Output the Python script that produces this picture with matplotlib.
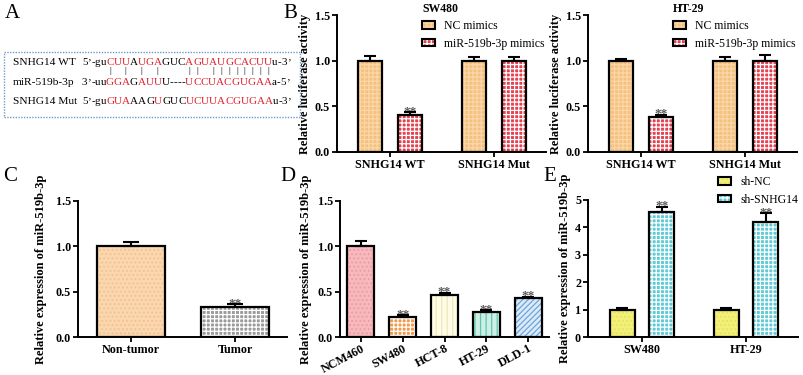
import numpy as np
import matplotlib
matplotlib.use("Agg")
import matplotlib.pyplot as plt
from matplotlib.patches import Patch, Rectangle

plt.rcParams['font.family'] = ['Liberation Serif', 'DejaVu Serif']
plt.rcParams['font.weight'] = 'bold'
plt.rcParams['hatch.linewidth'] = 0.9

# ---- data ----
luc_groups = ['SNHG14 WT', 'SNHG14 Mut']
sw480_nc = [1.0, 1.0]
sw480_nc_err = [0.05, 0.035]
sw480_mir = [0.405, 1.0]
sw480_mir_err = [0.03, 0.04]
ht29_nc = [1.0, 1.0]
ht29_nc_err = [0.02, 0.04]
ht29_mir = [0.38, 1.0]
ht29_mir_err = [0.025, 0.065]
luc_sig = [True, False]

tissue = ['Non-tumor', 'Tumor']
tissue_vals = [1.0, 0.335]
tissue_err = [0.045, 0.025]
tissue_sig = [False, True]

cells = ['NCM460', 'SW480', 'HCT-8', 'HT-29', 'DLD-1']
cell_vals = [1.0, 0.225, 0.465, 0.275, 0.425]
cell_err = [0.06, 0.015, 0.02, 0.02, 0.02]
cell_sig = [False, True, True, True, True]

sh_groups = ['SW480', 'HT-29']
sh_nc = [1.0, 1.0]
sh_nc_err = [0.05, 0.05]
sh_snhg14 = [4.57, 4.21]
sh_snhg14_err = [0.17, 0.3]
sh_sig = [True, True]

# sequences: (text, is_red)
wt_seq = [("5’-gu", 0), ("CUU", 1), ("A", 0), ("UGA", 1), ("GUC", 0),
          ("AGUAUGCACUU", 1), ("u-3’", 0)]
mir_seq = [("3’-uu", 0), ("GGA", 1), ("G", 0), ("AUU", 1), ("U----", 0),
           ("UCCUACGUGAA", 1), ("a-5’", 0)]
mut_seq = [("5’-gu", 0), ("GUA", 1), ("AAG", 0), ("U", 1), ("GUC", 0),
           ("UCUUACGUGAA", 1), ("u-3’", 0)]
# paired positions in the WT core (after 5'-gu)
pair_idx = [0, 2, 4, 6, 10, 11, 13, 14, 15, 16, 17, 18, 19, 20]

W, H = 804, 375
fig = plt.figure(figsize=(W / 100, H / 100), dpi=100)


def px_axes(l, r, top, bottom):
    return fig.add_axes([l / W, 1 - bottom / H, (r - l) / W, (bottom - top) / H])


def style_axes(ax, ylim, yticks, ylabel, labelpad, lsize=9.0):
    for s in ['top', 'right']:
        ax.spines[s].set_visible(False)
    for s in ['left', 'bottom']:
        ax.spines[s].set_linewidth(1.4)
    ax.set_ylim(*ylim)
    ax.set_yticks(yticks)
    ax.tick_params(direction='out', length=3.5, width=1.3, labelsize=8.7, pad=1.5)
    ax.set_ylabel(ylabel, fontsize=lsize, fontweight='bold', labelpad=labelpad)


def bars(ax, x, vals, errs, width, fc, hc, hatch, capsize):
    ax.bar(x, vals, width, color=fc, edgecolor=hc, hatch=hatch, linewidth=0, zorder=2)
    ax.bar(x, vals, width, fill=False, edgecolor='black', linewidth=1.6, zorder=3)
    ax.errorbar(x, vals, yerr=[np.zeros(len(vals)), errs], fmt='none', ecolor='black',
                elinewidth=1.5, capsize=capsize, capthick=1.5, zorder=4, clip_on=False)


def stars(ax, x, vals, errs, sig):
    for xi, v, e, s in zip(x, vals, errs, sig):
        if s:
            ax.annotate('**', (xi, v + e), xytext=(0, 0.5), textcoords='offset points',
                        ha='center', va='center', fontsize=9.5, color='#5a5a5a',
                        fontweight='bold', annotation_clip=False)


def legend_handle(fc, hc, hatch):
    return (Patch(facecolor=fc, edgecolor=hc, hatch=hatch, linewidth=0),
            Patch(fill=False, edgecolor='black', linewidth=1.5))


NC_FC, NC_HC, NC_H = '#F6C17E', '#F9D7A9', '++++'
MIR_FC, MIR_HC, MIR_H = '#E4404F', 'white', '++++'

# ---- panel B (two luciferase plots) ----
for (l, r, title, nc, nce, mir, mire, legx) in [
        (337, 546, 'SW480', sw480_nc, sw480_nc_err, sw480_mir, sw480_mir_err, 422),
        (588, 797, 'HT-29', ht29_nc, ht29_nc_err, ht29_mir, ht29_mir_err, 673)]:
    ax = px_axes(l, r, 15, 152)
    x = np.arange(len(luc_groups))
    bars(ax, x - 0.19, nc, nce, 0.23, NC_FC, NC_HC, NC_H, 4.5)
    bars(ax, x + 0.19, mir, mire, 0.23, MIR_FC, MIR_HC, MIR_H, 4.5)
    stars(ax, x + 0.19, mir, mire, luc_sig)
    ax.set_xlim(-0.51, 1.5)
    ax.set_xticks(x)
    ax.set_xticklabels(luc_groups, fontsize=8.5)
    style_axes(ax, (0, 1.5), [0, 0.5, 1.0, 1.5], 'Relative luciferase activity', 3, 8.9)
    ax.yaxis.set_major_formatter(matplotlib.ticker.FormatStrFormatter('%.1f'))
    ax.legend([legend_handle(NC_FC, NC_HC, NC_H), legend_handle(MIR_FC, MIR_HC, MIR_H)],
              ['NC mimics', 'miR-519b-3p mimics'], title=title,
              loc='upper left', bbox_to_anchor=(legx / W, 1 - 3 / H),
              bbox_transform=fig.transFigure, frameon=False,
              prop={'size': 8.5, 'weight': 'normal'},
              title_fontproperties={'size': 8.5, 'weight': 'bold'},
              alignment='left', handlelength=1.1, handleheight=0.6,
              handletextpad=0.8, labelspacing=0.45, borderpad=0, borderaxespad=0)

# ---- panel C ----
axc = px_axes(78, 287, 201, 337)
x = np.arange(len(tissue))
axc.bar(x[0], tissue_vals[0], 0.65, color='#FAD7B0', edgecolor='#F3C28E', hatch='....', linewidth=0, zorder=2)
axc.bar(x[1], tissue_vals[1], 0.65, color='#9A9A9A', edgecolor='white', hatch='++++', linewidth=0, zorder=2)
axc.bar(x, tissue_vals, 0.65, fill=False, edgecolor='black', linewidth=1.6, zorder=3)
axc.errorbar(x, tissue_vals, yerr=[np.zeros(2), tissue_err], fmt='none', ecolor='black',
             elinewidth=1.5, capsize=6, capthick=1.5, zorder=4, clip_on=False)
stars(axc, x, tissue_vals, tissue_err, tissue_sig)
axc.set_xlim(-0.51, 1.5)
axc.set_xticks(x)
axc.set_xticklabels(tissue, fontsize=8.5)
style_axes(axc, (0, 1.5), [0, 0.5, 1.0, 1.5], 'Relative expression of miR-519b-3p', 6)
axc.yaxis.set_major_formatter(matplotlib.ticker.FormatStrFormatter('%.1f'))

# ---- panel D ----
axd = px_axes(340, 549, 201, 337)
x = np.arange(len(cells))
d_styles = [('#F6B9BD', '#F29AA2', '....'), ('#F39A48', 'white', '++++'),
            ('#FEFCE6', '#EEE9B8', '|||'), ('#CDEFE6', '#62C6AE', '|||'),
            ('#DCEAF8', '#6CA5D8', '//////')]
for xi, v, (fc, hc, h) in zip(x, cell_vals, d_styles):
    axd.bar(xi, v, 0.65, color=fc, edgecolor=hc, hatch=h, linewidth=0, zorder=2)
axd.bar(x, cell_vals, 0.65, fill=False, edgecolor='black', linewidth=1.6, zorder=3)
axd.errorbar(x, cell_vals, yerr=[np.zeros(len(cells)), cell_err], fmt='none', ecolor='black',
             elinewidth=1.5, capsize=4.5, capthick=1.5, zorder=4, clip_on=False)
stars(axd, x, cell_vals, cell_err, cell_sig)
axd.set_xlim(-0.5, 4.5)
axd.set_xticks(x)
axd.set_xticklabels(cells, fontsize=8.5, rotation=28, ha='right', rotation_mode='anchor')
style_axes(axd, (0, 1.5), [0, 0.5, 1.0, 1.5], 'Relative expression of miR-519b-3p', 4)
axd.tick_params(axis='x', pad=0.5)
axd.yaxis.set_major_formatter(matplotlib.ticker.FormatStrFormatter('%.1f'))

# ---- panel E ----
axe = px_axes(588, 798, 200, 337)
x = np.arange(len(sh_groups))
SHNC = ('#F3F07A', '#E6E35E', '....')
SHSN = ('#5ECAD3', 'white', '++++')
bars(axe, x - 0.19, sh_nc, sh_nc_err, 0.24, *SHNC, 4.5)
bars(axe, x + 0.19, sh_snhg14, sh_snhg14_err, 0.24, *SHSN, 4.5)
stars(axe, x + 0.19, sh_snhg14, sh_snhg14_err, sh_sig)
axe.set_xlim(-0.52, 1.5)
axe.set_xticks(x)
axe.set_xticklabels(sh_groups, fontsize=8.5)
style_axes(axe, (0, 5), [0, 1, 2, 3, 4, 5], 'Relative expression of miR-519b-3p', 3)
axe.legend([legend_handle(*SHNC), legend_handle(*SHSN)], ['sh-NC', 'sh-SNHG14'],
           loc='upper left', bbox_to_anchor=(718 / W, 1 - 176 / H),
           bbox_transform=fig.transFigure, frameon=False,
           prop={'size': 8.5, 'weight': 'normal'}, handlelength=1.1, handleheight=0.6,
           handletextpad=0.8, labelspacing=0.5, borderpad=0, borderaxespad=0)

# ---- panel A: sequence box ----
fig.patches.append(Rectangle((4 / W, 1 - 117 / H), 296 / W, 65 / H, transform=fig.transFigure,
                             fill=False, edgecolor='#6F9CC8', linewidth=1.0, linestyle=(0, (1, 1))))


def draw_seq(x0, ybot, segs, fs=8.0):
    chars = []
    prev = None
    for seg, red in segs:
        for ch in seg:
            col = '#E0202A' if red else 'black'
            if prev is None:
                t = fig.text(x0 / W, 1 - ybot / H, ch, ha='left', va='bottom', fontsize=fs,
                             fontweight='normal', color=col)
            else:
                t = fig.add_artist(plt.Annotation(ch, xy=(1, 0), xycoords=prev, ha='left',
                                                  va='bottom', fontsize=fs, fontweight='normal',
                                                  color=col))
            chars.append(t)
            prev = t
    return chars


names = ['SNHG14 WT', 'miR-519b-3p', 'SNHG14 Mut']
row_bottoms = [67, 87, 106]
for name, yb in zip(names, row_bottoms):
    fig.text(13 / W, 1 - yb / H, name, ha='left', va='bottom', fontsize=8.2, fontweight='normal')
wt_chars = draw_seq(82, row_bottoms[0], wt_seq)
draw_seq(82, row_bottoms[1], mir_seq)
draw_seq(82, row_bottoms[2], mut_seq)
core = wt_chars[5:]
for i in pair_idx:
    fig.add_artist(plt.Annotation('|', xy=(0.5, 0), xycoords=core[i], xytext=(0, -0.3),
                                  textcoords='offset points', ha='center', va='top',
                                  fontsize=6.5, fontweight='normal'))

# ---- panel letters ----
for lab, xl, yt in [('A', 5, 4), ('B', 283, 4), ('C', 3, 167), ('D', 280, 167), ('E', 543, 167)]:
    fig.text(xl / W, 1 - yt / H, lab, ha='left', va='top', fontsize=15, fontweight='normal')

fig.savefig('out.png', dpi=100)
